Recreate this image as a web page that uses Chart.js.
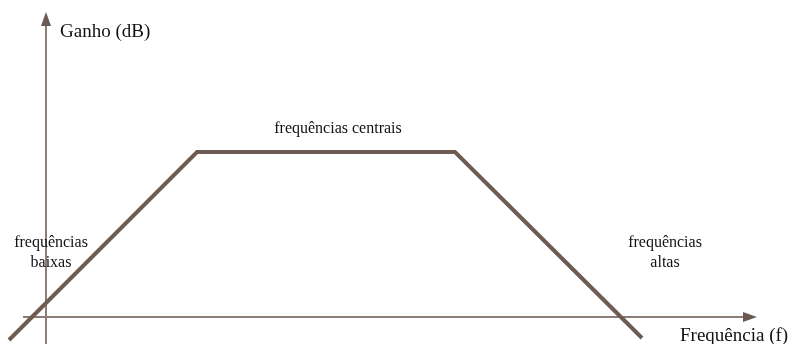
<!DOCTYPE html>
<html>
	<head>
		<title>Ganho x Frequência</title>
		<script src="https://cdn.jsdelivr.net/npm/chart.js@4.4.0/dist/chart.umd.min.js"></script>
		<style>
			body { margin: 0; background: #fff; }
			canvas { display: block; }
		</style>
	</head>
	<body>
		<canvas id="myChart" width="791" height="344"></canvas>
		<script>
			// dados da curva (unidades do gráfico, origem no cruzamento dos eixos)
			const freq = [-37, 151, 409, 596];
			const ganho = [-23, 165, 165, -21];

			// extensão dos eixos
			const eixoX = [-23, 711];
			const eixoY = [-27, 305];

			// rótulos
			const rotulos = [
				{ texto: 'Ganho (dB)', x: 14, y: 285, tam: 19, alinhar: 'left' },
				{ texto: 'frequências centrais', x: 292, y: 188, tam: 16, alinhar: 'center' },
				{ texto: 'frequências', x: 5, y: 74, tam: 16, alinhar: 'center' },
				{ texto: 'baixas', x: 5, y: 54, tam: 16, alinhar: 'center' },
				{ texto: 'frequências', x: 619, y: 74, tam: 16, alinhar: 'center' },
				{ texto: 'altas', x: 619, y: 54, tam: 16, alinhar: 'center' },
				{ texto: 'Frequência (f)', x: 634, y: -19, tam: 19, alinhar: 'left' }
			];

			const corEixo = '#8c7d77';
			const corSeta = '#6b5a52';
			const corLinha = '#6e5b52';

			// desenha eixos com setas (atrás da curva)
			const eixos = {
				id: 'eixos',
				beforeDatasetsDraw(chart) {
					const ctx = chart.ctx;
					const sx = chart.scales.x, sy = chart.scales.y;
					const x0 = sx.getPixelForValue(0), y0 = sy.getPixelForValue(0);
					const xa = sx.getPixelForValue(eixoX[0]), xb = sx.getPixelForValue(eixoX[1]);
					const ya = sy.getPixelForValue(eixoY[0]), yb = sy.getPixelForValue(eixoY[1]);
					ctx.save();
					ctx.strokeStyle = corEixo;
					ctx.lineWidth = 2;
					ctx.beginPath();
					ctx.moveTo(xa, y0); ctx.lineTo(xb - 8, y0);
					ctx.moveTo(x0, ya); ctx.lineTo(x0, yb + 8);
					ctx.stroke();
					ctx.fillStyle = corSeta;
					ctx.beginPath();
					ctx.moveTo(xb, y0); ctx.lineTo(xb - 14, y0 - 5); ctx.lineTo(xb - 14, y0 + 5); ctx.closePath();
					ctx.fill();
					ctx.beginPath();
					ctx.moveTo(x0, yb); ctx.lineTo(x0 - 5, yb + 14); ctx.lineTo(x0 + 5, yb + 14); ctx.closePath();
					ctx.fill();
					ctx.restore();
				},
				afterDatasetsDraw(chart) {
					const ctx = chart.ctx;
					const sx = chart.scales.x, sy = chart.scales.y;
					ctx.save();
					ctx.fillStyle = '#111';
					ctx.textBaseline = 'middle';
					rotulos.forEach(r => {
						ctx.font = r.tam + 'px "Liberation Serif", "Times New Roman", serif';
						ctx.textAlign = r.alinhar;
						ctx.fillText(r.texto, sx.getPixelForValue(r.x), sy.getPixelForValue(r.y));
					});
					ctx.restore();
				}
			};

			new Chart(document.getElementById('myChart').getContext('2d'), {
				type: 'line',
				data: {
					datasets: [{
						data: freq.map((f, i) => ({ x: f, y: ganho[i] })),
						borderColor: corLinha,
						borderWidth: 4,
						pointRadius: 0,
						tension: 0,
						fill: false
					}]
				},
				options: {
					responsive: false,
					animation: false,
					layout: { padding: 0 },
					plugins: {
						legend: { display: false },
						tooltip: { enabled: false }
					},
					scales: {
						x: { type: 'linear', min: -46, max: 745, display: false },
						y: { type: 'linear', min: -27, max: 317, display: false }
					}
				},
				plugins: [eixos]
			});
		</script>
	</body>
</html>
